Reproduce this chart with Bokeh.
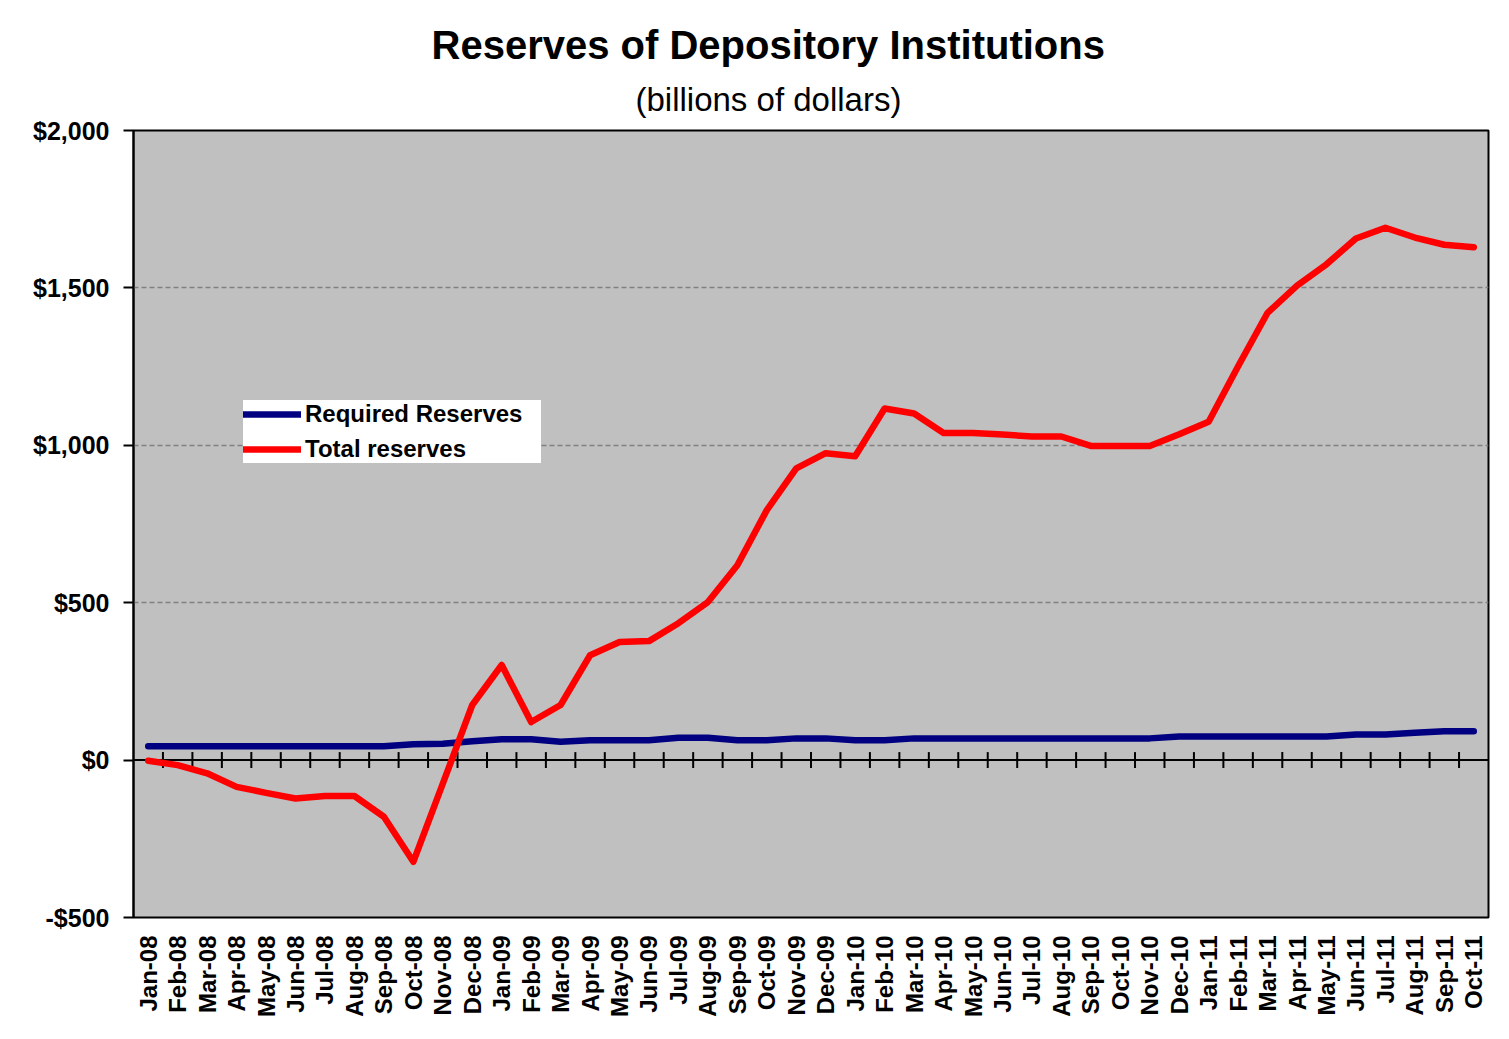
import math
from bokeh.plotting import figure
from bokeh.models import (FactorRange, Range1d, FixedTicker, Title, Span,
                          Legend, LegendItem, ColumnDataSource)
from bokeh.transform import dodge
from bokeh.embed import file_html
from bokeh.resources import INLINE

# ---------------- data ----------------
months = [
    "Jan-08", "Feb-08", "Mar-08", "Apr-08", "May-08", "Jun-08", "Jul-08", "Aug-08",
    "Sep-08", "Oct-08", "Nov-08", "Dec-08",
    "Jan-09", "Feb-09", "Mar-09", "Apr-09", "May-09", "Jun-09", "Jul-09", "Aug-09",
    "Sep-09", "Oct-09", "Nov-09", "Dec-09",
    "Jan-10", "Feb-10", "Mar-10", "Apr-10", "May-10", "Jun-10", "Jul-10", "Aug-10",
    "Sep-10", "Oct-10", "Nov-10", "Dec-10",
    "Jan-11", "Feb-11", "Mar-11", "Apr-11", "May-11", "Jun-11", "Jul-11", "Aug-11",
    "Sep-11", "Oct-11",
]

required_reserves = [
    44, 44, 44, 44, 44, 44, 44, 44, 44, 50, 52, 60,
    66, 66, 58, 63, 63, 63, 71, 71, 63, 63, 69, 69,
    63, 63, 69, 69, 69, 69, 69, 69, 69, 69, 69, 75,
    75, 75, 75, 75, 75, 81, 81, 87, 92, 92,
]

total_reserves = [
    -2, -16, -42, -85, -104, -122, -114, -114, -180, -323, -75, 175,
    302, 121, 175, 333, 375, 378, 435, 502, 619, 794, 927, 975,
    965, 1117, 1101, 1039, 1039, 1034, 1028, 1028, 998, 998, 998, 1035,
    1075, 1251, 1421, 1507, 1575, 1657, 1691, 1660, 1637, 1629,
]

y_ticks = [-500, 0, 500, 1000, 1500, 2000]
y_tick_labels = ["-$500", "$0", "$500", "$1,000", "$1,500", "$2,000"]
grid_values = [500, 1000, 1500]

title_text = "Reserves of Depository Institutions"
subtitle_text = "(billions of dollars)"
series_names = ["Required Reserves", "Total reserves"]

FONT = "Liberation Sans"

# ---------------- figure ----------------
p = figure(
    x_range=FactorRange(factors=months, range_padding=0),
    y_range=Range1d(-500, 2000),
    frame_width=1355, frame_height=787,
    min_border_left=133, min_border_right=17,
    min_border_top=130, min_border_bottom=118,
    output_backend="svg", toolbar_location=None, title=None,
    background_fill_color="#C0C0C0", border_fill_color="white",
)
p.outline_line_color = "black"
p.outline_line_width = 2
p.outline_line_alpha = 1.0

# titles (left aligned with offset so they are centred over the whole chart)
p.add_layout(Title(text=subtitle_text, align="left", text_font=FONT,
                   text_font_size="33px", text_font_style="normal",
                   text_color="black", offset=502, standoff=25), "above")
p.add_layout(Title(text=title_text, align="left", text_font=FONT,
                   text_font_size="40px", text_font_style="bold",
                   text_color="black", offset=298, standoff=0), "above")

# grid
p.xgrid.visible = False
p.ygrid.ticker = FixedTicker(ticks=grid_values)
p.ygrid.grid_line_color = "#808080"
p.ygrid.grid_line_dash = "5 3"
p.ygrid.grid_line_width = 1.5

# y axis
p.yaxis.ticker = FixedTicker(ticks=y_ticks)
p.yaxis.major_label_overrides = {t: l for t, l in zip(y_ticks, y_tick_labels)}
p.yaxis.minor_tick_line_color = None
p.yaxis.major_tick_in = 0
p.yaxis.major_tick_out = 10
p.yaxis.major_tick_line_width = 2
p.yaxis.major_tick_line_color = "black"
p.yaxis.axis_line_width = 2
p.yaxis.axis_line_color = "black"
p.yaxis.major_label_standoff = 14
p.yaxis.major_label_text_font = FONT
p.yaxis.major_label_text_font_style = "bold"
p.yaxis.major_label_text_font_size = "25px"
p.yaxis.major_label_text_color = "black"

# x axis (labels only; ticks are drawn at the zero line)
p.xaxis.axis_line_color = None
p.xaxis.major_tick_line_color = None
p.xaxis.minor_tick_line_color = None
p.xaxis.major_label_orientation = math.pi / 2
p.xaxis.major_label_standoff = 12
p.xaxis.major_label_text_font = FONT
p.xaxis.major_label_text_font_style = "bold"
p.xaxis.major_label_text_font_size = "24px"
p.xaxis.major_label_text_color = "black"

# zero line (category axis crossing)
zero = Span(location=0, dimension="width", line_color="black", line_width=2,
            level="underlay")
p.add_layout(zero)

# category boundary tick marks on the zero line
tick_src = ColumnDataSource(dict(x=months[1:], y=[0] * (len(months) - 1)))
p.scatter(x=dodge("x", -0.5, range=p.x_range), y="y", source=tick_src,
          marker="dash", angle=math.pi / 2, size=16,
          line_color="black", line_width=2)

# series
src = ColumnDataSource(dict(month=months, req=required_reserves, tot=total_reserves))
r_req = p.line("month", "req", source=src, line_color="#000080", line_width=6.5,
               line_join="round", line_cap="round")
r_tot = p.line("month", "tot", source=src, line_color="#FF0000", line_width=6.5,
               line_join="round", line_cap="round")

legend = Legend(
    items=[LegendItem(label=series_names[0], renderers=[r_req]),
           LegendItem(label=series_names[1], renderers=[r_tot])],
    location=(110, 454),
    background_fill_color="white", background_fill_alpha=1.0,
    border_line_color=None,
    label_text_font=FONT, label_text_font_style="bold",
    label_text_font_size="24px", label_text_color="black",
    glyph_width=58, glyph_height=22, label_height=22, label_width=236,
    label_standoff=4, padding=4, spacing=7, margin=0,
)
p.add_layout(legend, "center")

open("out.html", "w").write(file_html(p, INLINE))
